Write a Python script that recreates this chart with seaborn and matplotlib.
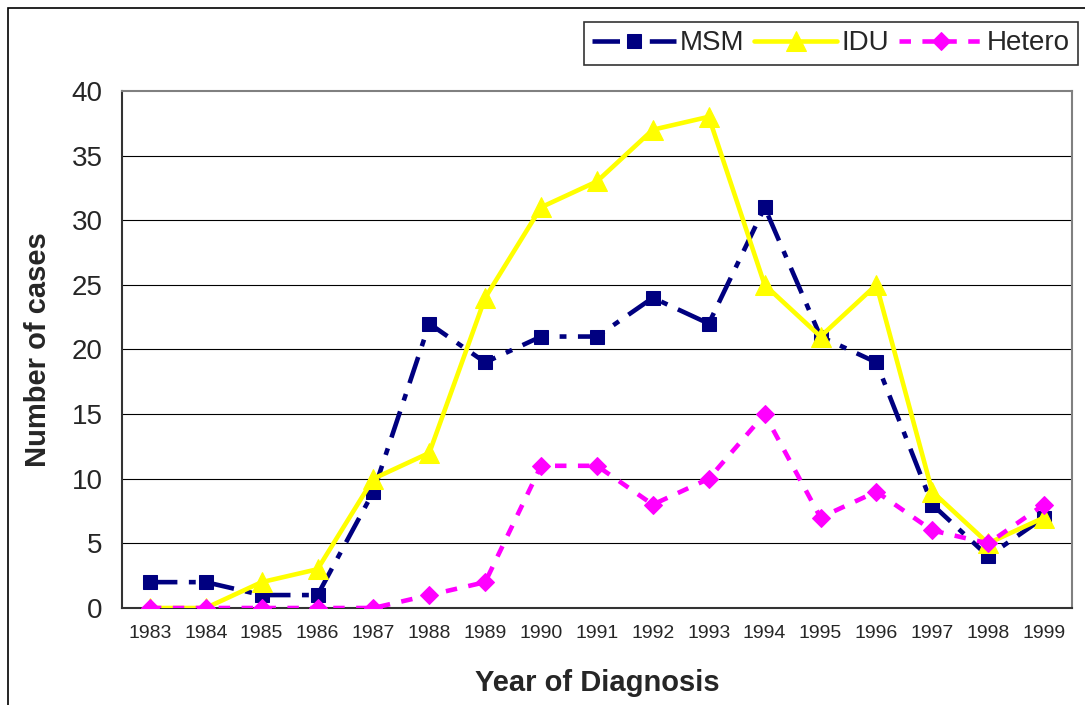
import numpy as np
import pandas as pd
import matplotlib
matplotlib.use('Agg')
import matplotlib.pyplot as plt
import seaborn as sns
from matplotlib.patches import Rectangle

years = ['1983', '1984', '1985', '1986', '1987', '1988', '1989', '1990', '1991',
         '1992', '1993', '1994', '1995', '1996', '1997', '1998', '1999']
msm = [2, 2, 1, 1, 9, 22, 19, 21, 21, 24, 22, 31, 21, 19, 8, 4, 7]
idu = [0, 0, 2, 3, 10, 12, 24, 31, 33, 37, 38, 25, 21, 25, 9, 5, 7]
hetero = [0, 0, 0, 0, 0, 1, 2, 11, 11, 8, 10, 15, 7, 9, 6, 5, 8]

sns.set_style('white')
plt.rcParams['font.family'] = ['Liberation Sans', 'DejaVu Sans']

df = pd.DataFrame({'pos': np.arange(len(years)), 'MSM': msm, 'IDU': idu, 'Hetero': hetero})

fig = plt.figure(figsize=(10.85, 7.05), dpi=100)
ax = fig.add_axes([0.1124, 0.1376, 0.9880 - 0.1124, 0.871 - 0.1376])

# horizontal gridlines
for v in range(5, 40, 5):
    ax.axhline(v, color='black', lw=0.8, zorder=0)

styles = {
    'MSM': dict(color='#000080', marker='s', markersize=10, dashes=(6, 2.5, 1.5, 2.5)),
    'IDU': dict(color='#FFFF00', marker='^', markersize=14, dashes=None),
    'Hetero': dict(color='#FF00FF', marker='D', markersize=9, dashes=(2.5, 2.5)),
}
for name in ['MSM', 'IDU', 'Hetero']:
    st = styles[name]
    sns.lineplot(data=df, x='pos', y=name, ax=ax, color=st['color'], lw=3.3,
                 marker=st['marker'], markersize=st['markersize'],
                 markeredgecolor=st['color'], label=name, zorder=3)
    if st['dashes'] is not None:
        ax.lines[-1].set_dashes(st['dashes'])

ax.set_xlim(-0.5, len(years) - 0.5)
ax.set_ylim(0, 40)
ax.set_yticks(range(0, 41, 5))
ax.set_xticks(np.arange(len(years)))
ax.set_xticklabels(years)
ax.set_xticks(np.arange(-0.5, len(years), 1), minor=True)
ax.tick_params(axis='x', which='major', length=0, labelsize=14, pad=12)
ax.tick_params(axis='x', which='minor', length=8, width=1, color='#333333', direction='out')
ax.tick_params(axis='y', length=8, width=1, color='#333333', direction='out', labelsize=20, pad=6)

for s in ['left', 'bottom']:
    ax.spines[s].set_color('#333333')
    ax.spines[s].set_linewidth(1.5)
for s in ['top', 'right']:
    ax.spines[s].set_color('#808080')
    ax.spines[s].set_linewidth(1.5)

ax.set_xlabel('Year of Diagnosis', fontsize=21, fontweight='bold', labelpad=20)
ax.set_ylabel('Number of cases', fontsize=21, fontweight='bold', labelpad=14)

leg = ax.legend(loc='upper left', bbox_to_anchor=(584 / 1085, 1 - 22 / 705),
                bbox_transform=fig.transFigure, ncol=3, fontsize=20, frameon=True,
                fancybox=False, edgecolor='black', borderaxespad=0, handlelength=3.0,
                handletextpad=0.15, columnspacing=0.35, borderpad=0.3)
leg.get_frame().set_linewidth(1.2)

# chart area border
fig.patches.append(Rectangle((8 / 1085, -0.1), 2, 1.1 - 8 / 705, transform=fig.transFigure,
                             fill=False, edgecolor='black', lw=1.2))

fig.savefig('out.png', dpi=100)
